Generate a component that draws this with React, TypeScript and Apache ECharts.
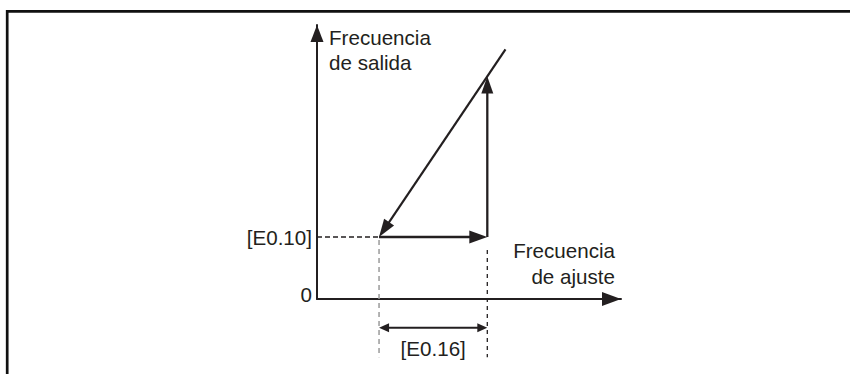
import React, { useEffect, useRef } from 'react';
import * as echarts from 'echarts';

// ---- data (abstract frequency units) ----
const xRange = [0, 49];
const yRange = [0, 44.2];
const yTickStep = 10;
const yTickValues = [0, 10];
const yTickLabels = ['0', '[E0.10]'];
const xAxisName = 'Frecuencia\nde ajuste';
const yAxisName = 'Frecuencia\nde salida';

// segments: [x1, y1, x2, y2]
const rampSegment = [30.38, 40.25, 10, 10];
const holdSegment = [10, 10, 27.45, 10];
const riseSegment = [27.45, 10, 27.45, 35.9];
const spanSegment = [10, -4.63, 27.45, -4.63];
const levelGuide = [0, 10, 10, 10];
const startGuide = [10, 9.5, 10, -9.4];
const endGuide = [27.45, 7.9, 27.45, -9.4];
const spanLabel = '[E0.16]';

const INK = '#231f20';
const FONT = '"Liberation Sans", Arial, Helvetica, sans-serif';
const FS = 20.6;

type ArrowOpt = {
  lineWidth: number;
  headL: number;
  headW: number;
  both?: boolean;
  label?: string;
  labelOffset?: number;
};

function arrowSeries(seg: number[], o: ArrowOpt) {
  return {
    type: 'custom',
    coordinateSystem: 'cartesian2d',
    silent: true,
    data: [seg],
    encode: { x: [0, 2], y: [1, 3] },
    renderItem: (_params: any, api: any) => {
      const a = api.coord([api.value(0), api.value(1)]);
      const b = api.coord([api.value(2), api.value(3)]);
      const dx = b[0] - a[0];
      const dy = b[1] - a[1];
      const len = Math.hypot(dx, dy) || 1;
      const ux = dx / len;
      const uy = dy / len;
      const nx = -uy;
      const ny = ux;
      const head = (tip: number[], sx: number, sy: number) => ({
        type: 'polygon',
        shape: {
          points: [
            [tip[0], tip[1]],
            [tip[0] - sx * o.headL + nx * o.headW / 2, tip[1] - sy * o.headL + ny * o.headW / 2],
            [tip[0] - sx * o.headL - nx * o.headW / 2, tip[1] - sy * o.headL - ny * o.headW / 2],
          ],
        },
        style: { fill: INK },
      });
      const s = o.both ? [a[0] + ux * o.headL * 0.5, a[1] + uy * o.headL * 0.5] : a;
      const e = [b[0] - ux * o.headL * 0.5, b[1] - uy * o.headL * 0.5];
      const children: any[] = [
        {
          type: 'line',
          shape: { x1: s[0], y1: s[1], x2: e[0], y2: e[1] },
          style: { stroke: INK, lineWidth: o.lineWidth },
        },
        head(b, ux, uy),
      ];
      if (o.both) children.push(head(a, -ux, -uy));
      if (o.label) {
        children.push({
          type: 'text',
          x: (a[0] + b[0]) / 2,
          y: (a[1] + b[1]) / 2 + (o.labelOffset || 0),
          style: {
            text: o.label,
            fill: INK,
            font: `${FS}px ${FONT}`,
            align: 'center',
            verticalAlign: 'middle',
          },
        });
      }
      return { type: 'group', children };
    },
  };
}

function guideSeries(seg: number[], color: string, width: number, dash: number[]) {
  return {
    type: 'custom',
    coordinateSystem: 'cartesian2d',
    silent: true,
    data: [seg],
    encode: { x: [0, 2], y: [1, 3] },
    renderItem: (_params: any, api: any) => {
      const a = api.coord([api.value(0), api.value(1)]);
      const b = api.coord([api.value(2), api.value(3)]);
      return {
        type: 'line',
        shape: { x1: a[0], y1: a[1], x2: b[0], y2: b[1] },
        style: { stroke: color, lineWidth: width, lineDash: dash },
      };
    },
  };
}

export default function App() {
  const ref = useRef<HTMLDivElement>(null);
  useEffect(() => {
    if (!ref.current) return;
    const chart = echarts.init(ref.current, undefined, { renderer: 'svg' });
    const labelStyle = { fontSize: FS, fontFamily: FONT, color: INK };
    chart.setOption({
      animation: false,
      backgroundColor: '#ffffff',
      grid: { left: 317, right: 229, top: 25, bottom: 75, containLabel: false },
      xAxis: {
        type: 'value',
        min: xRange[0],
        max: xRange[1],
        name: xAxisName,
        nameLocation: 'end',
        nameGap: -6,
        nameTextStyle: {
          ...labelStyle,
          align: 'right',
          verticalAlign: 'bottom',
          lineHeight: 26,
          padding: [0, 0, 10, 0],
        },
        axisLine: {
          show: true,
          symbol: ['none', 'triangle'],
          symbolSize: [14, 19],
          symbolOffset: [0, -9.5],
          lineStyle: { color: INK, width: 2 },
        },
        axisTick: { show: false },
        axisLabel: { show: false },
        splitLine: { show: false },
      },
      yAxis: {
        type: 'value',
        min: yRange[0],
        max: yRange[1],
        interval: yTickStep,
        name: yAxisName,
        nameLocation: 'end',
        nameGap: 0.5,
        nameTextStyle: {
          ...labelStyle,
          align: 'left',
          verticalAlign: 'top',
          lineHeight: 25,
          padding: [0, 0, 0, 12],
        },
        axisLine: {
          show: true,
          symbol: ['none', 'triangle'],
          symbolSize: [13, 17],
          symbolOffset: [0, -8.5],
          lineStyle: { color: INK, width: 2 },
        },
        axisTick: { show: false },
        splitLine: { show: false },
        axisLabel: {
          show: true,
          margin: 5,
          formatter: (v: number) => {
            const i = yTickValues.indexOf(v);
            if (i < 0) return '';
            return i === 0 ? `{z|${yTickLabels[i]}}` : `{e|${yTickLabels[i]}}`;
          },
          rich: {
            z: { ...labelStyle, padding: [0, 0, 9, 0] },
            e: { ...labelStyle },
          },
        },
      },
      graphic: [
        {
          type: 'polyline',
          silent: true,
          shape: { points: [[7.2, 374], [7.2, 11.3], [850, 11.3]] },
          style: { stroke: '#111111', lineWidth: 2.7, fill: 'none' },
        },
      ],
      series: [
        guideSeries(levelGuide, INK, 1.3, [5, 3]),
        guideSeries(startGuide, '#9a9a9a', 1.5, [5, 4]),
        guideSeries(endGuide, INK, 1.3, [4, 4]),
        arrowSeries(rampSegment, { lineWidth: 2.2, headL: 18, headW: 12 }),
        arrowSeries(holdSegment, { lineWidth: 2.5, headL: 18, headW: 13 }),
        arrowSeries(riseSegment, { lineWidth: 2.3, headL: 17, headW: 12 }),
        arrowSeries(spanSegment, {
          lineWidth: 2,
          headL: 10,
          headW: 9,
          both: true,
          label: spanLabel,
          labelOffset: 20.3,
        }),
      ],
    });
    return () => chart.dispose();
  }, []);
  return (
    <div
      ref={ref}
      style={{ position: 'fixed', left: 0, top: 0, width: 850, height: 374, background: '#fff' }}
    />
  );
}
